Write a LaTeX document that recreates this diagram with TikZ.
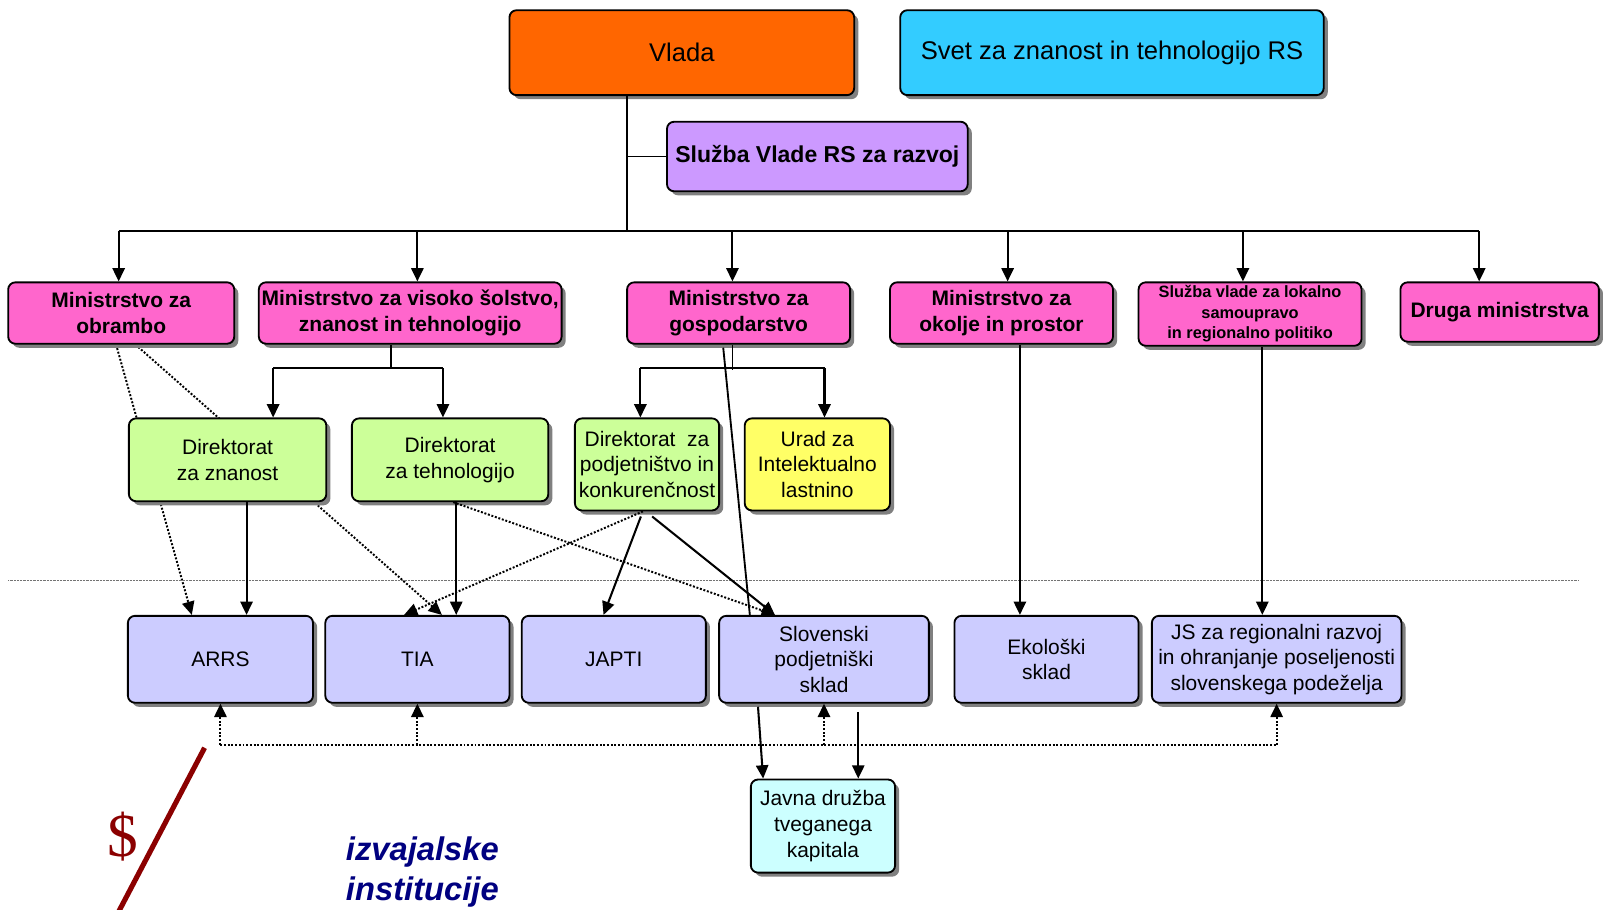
\documentclass[tikz,border=0pt]{standalone}
\usepackage{fontspec}
\setmainfont{Liberation Sans}
\newfontfamily\dollarfont{Liberation Serif}
\usepackage{xcolor}
\usetikzlibrary{shapes,arrows,positioning,calc,arrows.meta,shadows,backgrounds}

\definecolor{vladaor}{HTML}{FF6600}
\definecolor{svetcyan}{HTML}{33CCFF}
\definecolor{razvojlila}{HTML}{CC99FF}
\definecolor{minpink}{HTML}{FF66CC}
\definecolor{dirgreen}{HTML}{CCFF99}
\definecolor{uradyellow}{HTML}{FFFF66}
\definecolor{instblue}{HTML}{CCCCFF}
\definecolor{kapcyan}{HTML}{CCFFFF}
\definecolor{dollarred}{HTML}{8B0000}
\definecolor{navytext}{HTML}{000080}

\tikzset{
  box/.style={draw, line width=1.8pt, rounded corners=7pt, align=center, inner sep=0pt,
    drop shadow={shadow xshift=4pt, shadow yshift=-4pt, fill=black!50, opacity=1}},
  bigtxt/.style={font=\fontsize{25}{30}\selectfont},
  headtxt/.style={font=\fontsize{22.5}{28}\selectfont\bfseries},
  mintxt/.style={font=\fontsize{20.5}{25}\selectfont\bfseries},
  smalltxt/.style={font=\fontsize{16}{20}\selectfont\bfseries},
  normtxt/.style={font=\fontsize{20.5}{25}\selectfont},
  minbox/.style={box, fill=minpink, mintxt, minimum height=60pt},
  dirbox/.style={box, fill=dirgreen, normtxt},
  instbox/.style={box, fill=instblue, normtxt, minimum width=180pt, minimum height=85pt},
  tree/.style={line width=1.6pt},
  arr/.style={-{Triangle[length=13pt,width=12pt]}, line width=2pt},
  dotline/.style={line width=1.9pt, dash pattern=on 1.9pt off 1.7pt},
  dotarr/.style={dotline, -{Triangle[length=13pt,width=12pt]}}
}

\begin{document}
\begin{tikzpicture}[x=1pt,y=-1pt]
    \useasboundingbox (0,0) rectangle (1568,889);

    % Government level
    \node[box, fill=vladaor, bigtxt, minimum width=337pt, minimum height=83pt] (vlada) at (666.5,51.5) {Vlada};
    \node[box, fill=svetcyan, bigtxt, minimum width=414pt, minimum height=83pt] (svet) at (1087,51.5) {Svet za znanost in tehnologijo RS};
    \node[box, fill=razvojlila, headtxt, minimum width=294pt, minimum height=68pt] (razvoj) at (799,153) {Služba Vlade RS za razvoj};

    % Ministries
    \node[minbox, minimum width=221pt] (obr) at (118.5,306) {Ministrstvo za\\obrambo};
    \node[minbox, minimum width=296pt] (mvs) at (401,306) {Ministrstvo za visoko šolstvo,\\znanost in tehnologijo};
    \node[minbox, minimum width=218pt] (gosp) at (722,306) {Ministrstvo za\\gospodarstvo};
    \node[minbox, minimum width=218pt] (okol) at (979,306) {Ministrstvo za\\okolje in prostor};
    \node[minbox, smalltxt, minimum width=218pt, minimum height=62pt] (lokal) at (1222,307) {Služba vlade za lokalno\\samoupravo\\in regionalno politiko};
    \node[minbox, minimum width=194pt, minimum height=58pt] (druga) at (1466,305) {Druga ministrstva};

    % Directorates
    \node[dirbox, minimum width=193pt, minimum height=81pt] (dirZ) at (222.5,449.5) {Direktorat\\za znanost};
    \node[dirbox, minimum width=192pt, minimum height=81pt] (dirT) at (440,449.5) {Direktorat\\za tehnologijo};
    \node[dirbox, minimum width=141pt, minimum height=90pt] (dirP) at (632.5,454) {Direktorat\ \ za\\podjetništvo in\\konkurenčnost};
    \node[box, fill=uradyellow, normtxt, minimum width=142pt, minimum height=90pt] (urad) at (799,454) {Urad za\\Intelektualno\\lastnino};

    % Agencies and funds
    \node[instbox, minimum width=181pt] (arrs) at (215.5,644.5) {ARRS};
    \node[instbox] (tia) at (408,644.5) {TIA};
    \node[instbox] (japti) at (600,644.5) {JAPTI};
    \node[instbox, minimum width=205pt] (sps) at (805.5,644.5) {Slovenski\\podjetniški\\sklad};
    \node[instbox] (eko) at (1023,644.5) {Ekološki\\sklad};
    \node[instbox, minimum width=244pt] (js) at (1248,644.5) {JS za regionalni razvoj\\in ohranjanje poseljenosti\\slovenskega podeželja};
    \node[box, fill=kapcyan, normtxt, minimum width=141pt, minimum height=91pt] (javna) at (804.5,807.5) {Javna družba\\tveganega\\kapitala};

    % Tree from Vlada
    \coordinate (bus) at (613,226);
    \coordinate (otap) at ([xshift=-2.5pt]obr.north);
    \coordinate (dtap) at ([xshift=-20pt]druga.north);
    \draw[tree] (vlada.south -| bus) -- (bus);
    \draw[tree] (razvoj.west) -- (razvoj.west -| bus);
    \draw[tree] (otap |- bus) -- (dtap |- bus);
    \foreach \n/\dx in {obr/-2.5,mvs/7,gosp/-6,okol/6,lokal/-7,druga/-20}{
        \coordinate (tap) at ([xshift=\dx pt]\n.north);
        \draw[arr] (tap |- bus) -- (tap);
    }

    % Ministries to directorates
    \coordinate (m1) at (382,360);
    \coordinate (b1) at (267,360);
    \coordinate (b2) at (433,360);
    \draw[tree] (mvs.south -| m1) -- (m1);
    \draw[tree] (b1) -- (b2);
    \draw[arr] (b1) -- (b1 |- dirZ.north);
    \draw[arr] (b2) -- (b2 |- dirT.north);
    \coordinate (m2) at (716,362);
    \coordinate (b3) at (626,360);
    \coordinate (b4) at (806,360);
    \draw[tree] (gosp.south -| m2) -- (m2);
    \draw[tree] (b3) -- (b4);
    \draw[arr] (b3) -- (b3 |- dirP.north);
    \draw[arr] (b4) -- (b4 |- urad.north);

    % Separator
    \draw[black!55, line width=0.8pt, dash pattern=on 0.8pt off 0.6pt] (8,567) -- (1543,567);

    % Dotted links behind the directorates
    \begin{scope}[on background layer]
        \draw[dotarr] ([xshift=-5pt]obr.south) -- ([xshift=-28pt]arrs.north);
        \draw[dotarr] ([xshift=14pt]obr.south) -- ([xshift=24pt]tia.north);
    \end{scope}
    \draw[dotarr] ([xshift=3pt]dirT.south) -- ([xshift=-48pt]sps.north);
    \draw[dotarr] ([xshift=-4pt]dirP.south) -- ([xshift=-13pt]tia.north);

    % Solid links
    \coordinate (zs) at ([xshift=18.5pt]dirZ.south);
    \coordinate (ts) at ([xshift=6pt]dirT.south);
    \coordinate (os) at ([xshift=18pt]okol.south);
    \coordinate (ls) at ([xshift=12pt]lokal.south);
    \draw[arr] (zs) -- (zs |- arrs.north);
    \draw[arr] (ts) -- (ts |- tia.north);
    \draw[arr] (os) -- (os |- eko.north);
    \draw[arr] (ls) -- (ls |- js.north);
    \draw[arr] ([xshift=-6pt,yshift=-5pt]dirP.south) -- ([xshift=-10pt]japti.north);
    \draw[arr] ([xshift=5pt,yshift=-5pt]dirP.south) -- ([xshift=-48pt]sps.north);
    \draw[line width=1.8pt] ([xshift=-15pt,yshift=-3pt]gosp.south) -- ([xshift=-72.5pt]sps.north);
    \draw[arr] ([xshift=-64.5pt,yshift=-3pt]sps.south) -- ([xshift=-58.5pt]javna.north);
    \draw[arr] ([xshift=33.5pt,yshift=-8pt]sps.south) -- ([xshift=34.5pt]javna.north);

    % Feedback to agencies
    \coordinate (fb) at (0,728);
    \draw[dotline] (arrs.south |- fb) -- (js.south |- fb);
    \foreach \n in {arrs,tia,sps,js}
        \draw[dotarr] (\n.south |- fb) -- (\n.south);

    % Lower left
    \draw[dollarred, line width=5pt] (200,731) -- (114,895);
    \node[dollarred, font=\dollarfont\fontsize{60}{60}\selectfont] (dollar) at (120,818) {\$};
    \node[navytext, font=\fontsize{32}{39}\selectfont\bfseries\itshape, align=left, anchor=north west, inner sep=0pt] (izv) at (338,818) {izvajalske\\institucije};
\end{tikzpicture}
\end{document}
